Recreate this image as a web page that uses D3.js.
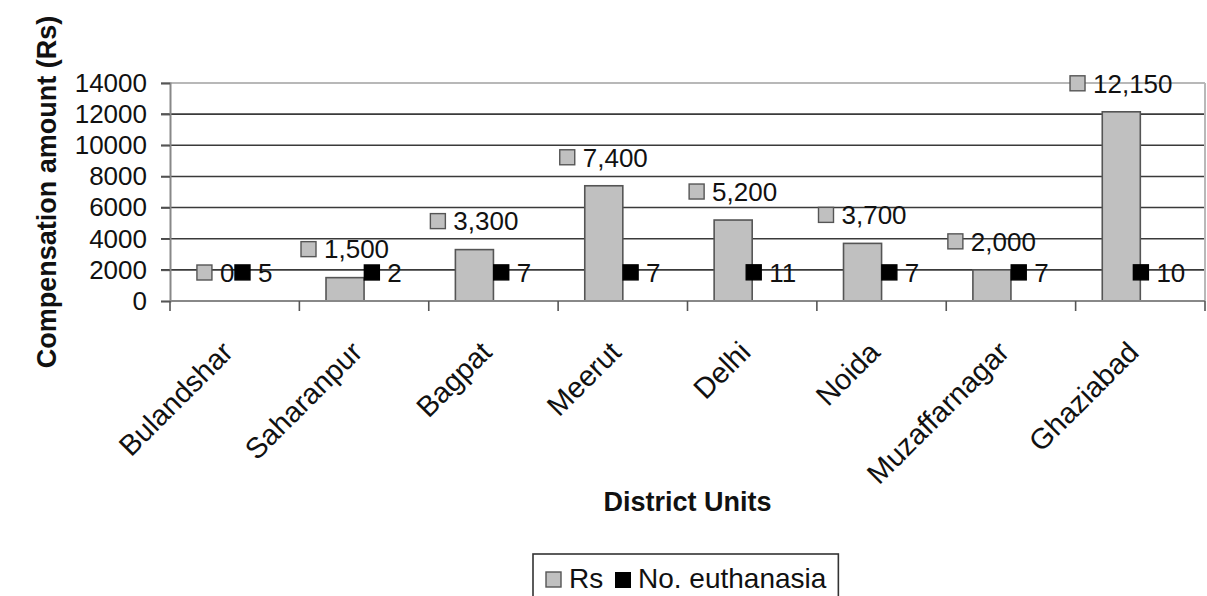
<!DOCTYPE html>
<html>
<head>
<meta charset="utf-8">
<script src="https://cdn.jsdelivr.net/npm/d3@7"></script>
<style>
  html, body { margin: 0; padding: 0; background: #fff; }
  svg { display: block; }
  text { font-family: "Liberation Sans", Arial, sans-serif; fill: #111; }
</style>
</head>
<body>
<svg id="chart" width="1207" height="596"></svg>
<script>
// District units and the two series
const districts = ["Bulandshar", "Saharanpur", "Bagpat", "Meerut", "Delhi", "Noida", "Muzaffarnagar", "Ghaziabad"];
const compensationRs = [0, 1500, 3300, 7400, 5200, 3700, 2000, 12150];
const euthanasiaCount = [5, 2, 7, 7, 11, 7, 7, 10];
const yTicks = [0, 2000, 4000, 6000, 8000, 10000, 12000, 14000];
const seriesNames = ["Rs", "No. euthanasia"];
const seriesColors = ["#c0c0c0", "#000000"];

const svg = d3.select("#chart");
const plot = { left: 170, right: 1205, top: 83, bottom: 301 };

const x = d3.scaleBand().domain(districts).range([plot.left, plot.right]).paddingInner(0).paddingOuter(0);
const xSub = d3.scaleBand().domain(seriesNames).range([0, x.bandwidth()]).paddingInner(0).paddingOuter(0.7);
const y = d3.scaleLinear().domain([0, 14000]).range([plot.bottom, plot.top]);

const rows = districts.map((d, i) => ({ district: d, values: [compensationRs[i], euthanasiaCount[i]] }));

// Horizontal gridlines (top one is the lighter plot border)
svg.append("g").selectAll("line").data(yTicks.filter(t => t > 0)).join("line")
  .attr("x1", plot.left - 9).attr("x2", plot.right)
  .attr("y1", d => y(d)).attr("y2", d => y(d))
  .attr("stroke", d => d === 14000 ? "#b8b8b8" : "#3a3a3a")
  .attr("stroke-width", d => d === 14000 ? 2 : 1.6);

// Right border of the plot area
svg.append("line")
  .attr("x1", plot.right).attr("x2", plot.right)
  .attr("y1", plot.top).attr("y2", plot.bottom)
  .attr("stroke", "#b8b8b8").attr("stroke-width", 2);

// Bars
const groups = svg.append("g").selectAll("g").data(rows).join("g")
  .attr("transform", d => `translate(${x(d.district)},0)`);

groups.append("rect")
  .attr("x", xSub("Rs"))
  .attr("width", xSub.bandwidth())
  .attr("y", d => y(d.values[0]))
  .attr("height", d => y(0) - y(d.values[0]))
  .attr("fill", seriesColors[0])
  .attr("stroke", d => d.values[0] > 0 ? "#555" : "none")
  .attr("stroke-width", 1.6);

groups.append("rect")
  .attr("x", xSub("No. euthanasia"))
  .attr("width", xSub.bandwidth())
  .attr("y", d => y(d.values[1]))
  .attr("height", d => y(0) - y(d.values[1]))
  .attr("fill", seriesColors[1]);

// Y axis
const yAxis = d3.axisLeft(y).tickValues(yTicks).tickSize(9).tickPadding(14).tickFormat(d3.format("d"));
const ya = svg.append("g").attr("transform", `translate(${plot.left},0)`).call(yAxis);
ya.select(".domain").attr("stroke", "#888").attr("stroke-width", 2);
ya.selectAll(".tick line").attr("stroke", "#555").attr("stroke-width", 1.6);
ya.selectAll(".tick text").attr("font-size", 26).attr("fill", "#111")
  .attr("font-family", "'Liberation Sans', Arial, sans-serif");

// X axis baseline and category separators
svg.append("line")
  .attr("x1", plot.left).attr("x2", plot.right)
  .attr("y1", y(0)).attr("y2", y(0))
  .attr("stroke", "#888").attr("stroke-width", 2);
const sepX = districts.map(d => x(d)).concat([plot.right]);
svg.append("g").selectAll("line").data(sepX).join("line")
  .attr("x1", d => d).attr("x2", d => d)
  .attr("y1", y(0)).attr("y2", y(0) + 10)
  .attr("stroke", "#555").attr("stroke-width", 1.6);

// Rotated category labels
svg.append("g").selectAll("text").data(districts).join("text")
  .attr("transform", d => `translate(${x(d) + x.bandwidth() / 2},354) rotate(-45)`)
  .attr("text-anchor", "end")
  .attr("font-size", 29)
  .text(d => d);

// Data labels with legend keys
const fmt = d3.format(",");
function addLabel(g, cx, cy, val, color) {
  const keySize = 15, gap = 8;
  const t = g.append("text").attr("font-size", 26).attr("y", cy + 9.3).text(fmt(val));
  const tw = t.node().getComputedTextLength();
  const total = keySize + gap + tw;
  const x0 = cx - total / 2;
  g.append("rect")
    .attr("x", x0).attr("y", cy - keySize / 2)
    .attr("width", keySize).attr("height", keySize)
    .attr("fill", color).attr("stroke", color === "#000000" ? "#000" : "#555").attr("stroke-width", 1.4);
  t.attr("x", x0 + keySize + gap).raise();
}
const labelLayer = svg.append("g");
rows.forEach(r => {
  r.values.forEach((v, k) => {
    const cx = x(r.district) + xSub(seriesNames[k]) + xSub.bandwidth() / 2;
    addLabel(labelLayer, cx, y(v) - 28.5, v, seriesColors[k]);
  });
});

// Axis titles
svg.append("text")
  .attr("transform", `translate(56,${(plot.top + plot.bottom) / 2}) rotate(-90)`)
  .attr("text-anchor", "middle").attr("font-size", 27).attr("font-weight", "bold")
  .text("Compensation amount (Rs)");
svg.append("text")
  .attr("x", (plot.left + plot.right) / 2).attr("y", 511)
  .attr("text-anchor", "middle").attr("font-size", 27).attr("font-weight", "bold")
  .text("District Units");

// Legend
const lg = svg.append("g");
const box = lg.append("rect").attr("x", 533).attr("y", 554).attr("height", 50)
  .attr("fill", "#fff").attr("stroke", "#333").attr("stroke-width", 1.6);
lg.append("rect").attr("x", 546).attr("y", 572).attr("width", 15).attr("height", 15)
  .attr("fill", seriesColors[0]).attr("stroke", "#555").attr("stroke-width", 1.4);
lg.append("text").attr("x", 569).attr("y", 588).attr("font-size", 28).text(seriesNames[0]);
lg.append("rect").attr("x", 615).attr("y", 572).attr("width", 16).attr("height", 16)
  .attr("fill", seriesColors[1]);
const lt = lg.append("text").attr("x", 638).attr("y", 588).attr("font-size", 28).text(seriesNames[1]);
box.attr("width", 638 + lt.node().getComputedTextLength() + 12 - 533);
</script>
</body>
</html>
